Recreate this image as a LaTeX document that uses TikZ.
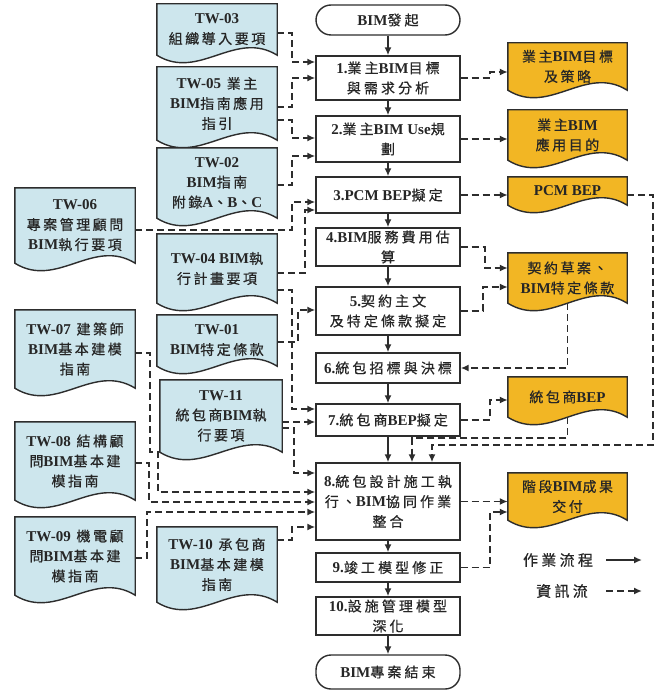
\documentclass[tikz,border=0pt]{standalone}
\usepackage{fontspec}
\setmainfont{Liberation Serif}
\newfontfamily\cjkA{Noto Sans CJK TC}[LetterSpace=22,FakeBold=0.6]
\newfontfamily\cjkB{Noto Sans CJK TC}[LetterSpace=18,FakeBold=0.6]
\newfontfamily\latfont{Liberation Serif}
\newcommand\lat[1]{{\latfont\bfseries\fontsize{15}{20}\selectfont#1}}
\usetikzlibrary{arrows.meta,calc,backgrounds}
\definecolor{blueF}{RGB}{205,230,237}
\definecolor{yellowF}{RGB}{242,182,36}
\definecolor{lineC}{RGB}{45,45,45}
\newcommand\docshape[3]{%
  \draw[line width=1.4pt, draw=lineC, fill=#2] (#1.south west) -- (#1.north west) -- (#1.north east) -- (#1.south east)
   .. controls ($(#1.south east)!0.35!(#1.south west)+(0,-#3)$) and ($(#1.south west)!0.35!(#1.south east)+(0,#3)$) .. (#1.south west) -- cycle;}
\tikzset{
  proc/.style={draw=lineC, line width=1.4pt, fill=white, minimum width=144pt, inner sep=1pt, align=center, text=black!85, font=\cjkA\fontsize{14}{20}\selectfont},
  term/.style={proc, rounded corners=15pt},
  bdoc/.style={inner sep=0pt, align=center, text=black!85, minimum width=120pt, font=\cjkB\fontsize{14}{20}\selectfont},
  ydoc/.style={inner sep=0pt, align=center, text=black!85, minimum width=119pt, font=\cjkB\fontsize{14}{20}\selectfont},
  flow/.style={-{Latex[length=8pt,width=7pt]}, line width=1.6pt, draw=lineC},
  info/.style={-{Latex[length=8pt,width=7pt]}, line width=1.6pt, draw=lineC, dash pattern=on 7pt off 4pt},
  legtext/.style={text=black!85, font=\cjkA\fontsize{15}{20}\selectfont},
}
\begin{document}
\begin{tikzpicture}[x=1pt,y=-1pt]
\useasboundingbox (0,0) rectangle (667,690);
% main process
\node[term, minimum height=30pt] (start) at (388,20) {\lat{BIM}發起};
\node[proc, minimum height=44pt] (b1) at (388,78) {\lat{1.}業主\lat{BIM}目標\\與需求分析};
\node[proc, minimum height=46pt] (b2) at (388,139) {\lat{2.}業主\lat{BIM Use}規\\劃};
\node[proc, minimum height=36pt] (b3) at (388,195) {\lat{3.PCM BEP}擬定};
\node[proc, minimum height=38pt] (b4) at (388,247) {\lat{4.BIM}服務費用估\\算};
\node[proc, minimum height=48pt] (b5) at (388,311) {\lat{5.}契約主文\\及特定條款擬定};
\node[proc, minimum height=30pt] (b6) at (388,368) {\lat{6.}統包招標與決標};
\node[proc, minimum height=32pt] (b7) at (388,420) {\lat{7.}統包商\lat{BEP}擬定};
\node[proc, minimum height=77pt] (b8) at (388,501.5) {\lat{8.}統包設計施工執\\行、\lat{BIM}協同作業\\整合};
\node[proc, minimum height=29pt] (b9) at (388,567.5) {\lat{9.}竣工模型修正};
\node[proc, minimum height=38pt] (b10) at (388,616) {\lat{10.}設施管理模型\\深化};
\node[term, minimum height=34pt] (end) at (388,672) {\lat{BIM}專案結束};
% yellow documents
\node[ydoc, minimum height=47pt] (d1) at (567.5,66.5) {業主\lat{BIM}目標\\及策略};
\node[ydoc, minimum height=50pt] (d2) at (567.5,135) {業主\lat{BIM}\\應用目的};
\node[ydoc, minimum height=28pt] (d3) at (567.5,191) {\lat{PCM BEP}};
\node[ydoc, minimum height=50pt] (d4) at (567.5,278) {契約草案、\\\lat{BIM}特定條款};
\node[ydoc, minimum height=40pt] (d5) at (567.5,397) {統包商\lat{BEP}};
\node[ydoc, minimum height=47pt] (d6) at (567.5,496.5) {階段\lat{BIM}成果\\交付};
% blue documents
\node[bdoc, minimum height=51pt] (tw03) at (217,29.5) {\lat{TW-03}\\組織導入要項};
\node[bdoc, minimum height=73pt] (tw05) at (217,103.5) {\lat{TW-05} 業主\\\lat{BIM}指南應用\\指引};
\node[bdoc, minimum height=70pt] (tw02) at (217,183) {\lat{TW-02}\\\lat{BIM}指南\\附錄\lat{A}、\lat{B}、\lat{C}};
\node[bdoc, minimum height=75pt] (tw06) at (75,225.5) {\lat{TW-06}\\專案管理顧問\\\lat{BIM}執行要項};
\node[bdoc, minimum height=69pt] (tw04) at (217,268.5) {\lat{TW-04 BIM}執\\行計畫要項};
\node[bdoc, minimum height=51pt] (tw01) at (217,340.5) {\lat{TW-01}\\\lat{BIM}特定條款};
\node[bdoc, minimum width=122pt, minimum height=72pt] (tw11) at (221,416) {\lat{TW-11}\\統包商\lat{BIM}執\\行要項};
\node[bdoc, minimum height=78pt] (tw07) at (75,349) {\lat{TW-07} 建築師\\\lat{BIM}基本建模\\指南};
\node[bdoc, minimum height=78pt] (tw08) at (75,461) {\lat{TW-08} 結構顧\\問\lat{BIM}基本建\\模指南};
\node[bdoc, minimum height=78pt] (tw09) at (75,556) {\lat{TW-09} 機電顧\\問\lat{BIM}基本建\\模指南};
\node[bdoc, minimum height=75pt] (tw10) at (217,564.5) {\lat{TW-10} 承包商\\\lat{BIM}基本建模\\指南};
% legend
\node[legtext] (leg1) at (558,560) {作業流程};
\node[legtext] (leg2) at (562,591) {資訊流};
\coordinate (l1a) at (606,560);
\coordinate (l1b) at (642,560);
\coordinate (l2a) at (606,591);
\coordinate (l2b) at (642,591);
\begin{pgfonlayer}{background}
\fill[white] (0,0) rectangle (667,690);
\foreach \n in {d1,d2,d3,d4,d5,d6}{\docshape{\n}{yellowF}{26}}
\foreach \n in {tw03,tw05,tw02,tw06,tw04,tw01,tw11,tw07,tw08,tw09,tw10}{\docshape{\n}{blueF}{26}}
\end{pgfonlayer}
% main flow
\draw[flow] (start) -- (b1);
\draw[flow] (b1) -- (b2);
\draw[flow] (b2) -- (b3);
\draw[flow] (b3) -- (b4);
\draw[flow] (b4) -- (b5);
\draw[flow] (b5) -- (b6);
\draw[flow] (b6) -- (b7);
\draw[flow] (b7) -- (b8);
\draw[flow] (b8) -- (b9);
\draw[flow] (b9) -- (b10);
\draw[flow] (b10) -- (end);
% left info flows
\draw[info] (tw03.east |- 0,33) -| (292,62) -- (b1.west |- 0,62);
\draw[info] (tw05.east |- 0,107) -| (292,78) -- (b1.west |- 0,78);
\draw[info] (tw05.east |- 0,120) -| (292,138) -- (b2.west |- 0,138);
\draw[info] (tw02.east |- 0,185) -| (292,156) -- (b2.west |- 0,156);
\draw[info] (tw06.east |- 0,230) -| (292,202) -- (b3.west |- 0,202);
\draw[info] (tw04.east |- 0,273) -| (305,210) -- (b3.west |- 0,210);
\draw[info] (tw04.east |- 0,290) -| (292,409) -- (b7.west |- 0,409);
\draw[info] (tw01.east |- 0,342) -| (298,310) -- (b5.west |- 0,310);
\draw[info] (tw11.east |- 0,422) -- (b7.west |- 0,422);
\draw[info] (tw11.east |- 0,428) -| (294,473) -- (b8.west |- 0,473);
\draw[info] (tw07.east |- 0,353) -- (150,353) -- (150,452) -- (158,452) -- (158,492) -- (b8.west |- 0,492);
\draw[info] (tw08.east |- 0,463) -| (149,502) -- (b8.west |- 0,502);
\draw[info] (tw09.east |- 0,558) -| (147,512) -- (b8.west |- 0,512);
\draw[info] (tw10.east |- 0,540) -| (292,527) -- (b8.west |- 0,527);
% right info flows
\draw[info] (b1.east) -- (490,78) -- (490,72) -- (d1.west |- 0,72);
\draw[info] (b2.east) -- (d2.west |- 0,139);
\draw[info] (b3.east) -- (d3.west |- 0,195);
\draw[info] (d3.east |- 0,195) -- (653,195) -- (653,445) -- (432,445) -- (b8.north -| 432,0);
\draw[info] (b4.east) -| (485,268) -- (d4.west |- 0,268);
\draw[info] (b5.east) -| (483,287) -- (d4.west |- 0,287);
\draw[info] (d4.south) |- (b6.east);
\draw[info] (b7.east) -| (490,400) -- (d5.west |- 0,400);
\draw[info] (d5.south) |- (412,438) -- (b8.north -| 412,0);
\draw[info] (b8.east) -- (d6.west |- 0,501.5);
\draw[info] (b9.east) -| (490,512) -- (d6.west |- 0,512);
% legend arrows
\draw[flow] (l1a) -- (l1b);
\draw[info] (l2a) -- (l2b);
\end{tikzpicture}
\end{document}
